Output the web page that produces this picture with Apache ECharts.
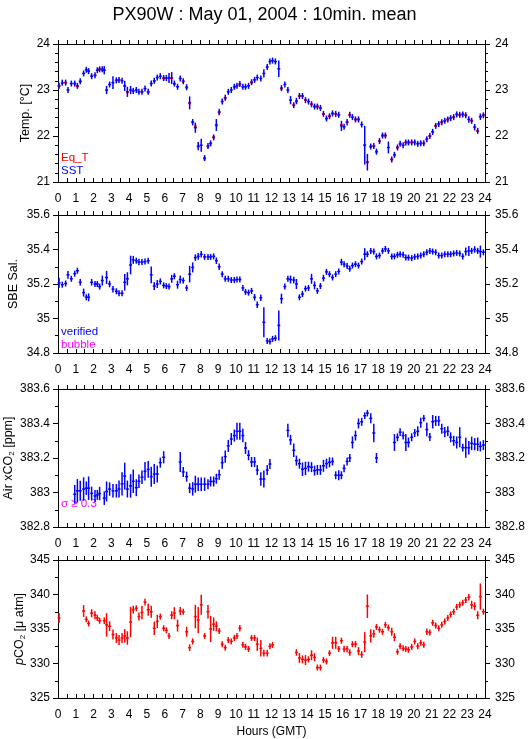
<!DOCTYPE html>
<html>
<head>
<meta charset="utf-8">
<title>PX90W : May 01, 2004 : 10min. mean</title>
<script src="https://cdn.jsdelivr.net/npm/echarts@6.0.0/dist/echarts.min.js"></script>
<style>
  html, body { margin: 0; padding: 0; background: #fff; }
  #chart { width: 529px; height: 739px; }
</style>
</head>
<body>
<div id="chart"></div>
<script>
// 10 minute bins (hours, GMT)
const hours = [
  0.06, 0.24, 0.43, 0.56, 0.75, 0.94, 1.09, 1.25, 1.44, 1.59,
  1.72, 1.89, 2.08, 2.21, 2.34, 2.49, 2.60, 2.73, 2.90, 3.09,
  3.28, 3.43, 3.60, 3.75, 3.90, 4.08, 4.23, 4.40, 4.55, 4.72,
  4.89, 5.07, 5.24, 5.41, 5.58, 5.75, 5.94, 6.09, 6.24, 6.39,
  6.54, 6.72, 6.87, 7.04, 7.23, 7.40, 7.57, 7.72, 7.88, 8.05,
  8.24, 8.43, 8.58, 8.75, 8.90, 9.06, 9.23, 9.40, 9.57, 9.74,
  9.91, 10.06, 10.22, 10.39, 10.54, 10.71, 10.88, 11.05, 11.20, 11.40,
  11.57, 11.76, 11.91, 12.06, 12.22, 12.41, 12.56, 12.75, 12.92, 13.07,
  13.25, 13.40, 13.57, 13.74, 13.91, 14.08, 14.25, 14.42, 14.58, 14.75,
  14.92, 15.09, 15.26, 15.43, 15.61, 15.78, 15.93, 16.08, 16.25, 16.40,
  16.55, 16.72, 16.89, 17.07, 17.24, 17.39, 17.58, 17.75, 17.90, 18.07,
  18.24, 18.40, 18.57, 18.76, 18.91, 19.08, 19.23, 19.40, 19.55, 19.70,
  19.88, 20.05, 20.22, 20.39, 20.56, 20.73, 20.90, 21.06, 21.23, 21.40,
  21.57, 21.74, 21.91, 22.07, 22.24, 22.41, 22.58, 22.75, 22.92, 23.09,
  23.25, 23.42, 23.59, 23.74, 23.91
];

// panel 1 : temperature [°C]
const sst = [
  23.09, 23.16, 23.16, 23.00, 23.14, 23.14, 23.09, 23.19, 23.36, 23.44,
  23.41, 23.30, 23.32, 23.43, 23.45, 23.45, 23.43, 23.00, 23.12, 23.16,
  23.21, 23.22, 23.20, 23.09, 22.96, 23.00, 22.98, 23.00, 22.96, 22.96,
  23.03, 22.96, 23.14, 23.20, 23.27, 23.30, 23.26, 23.26, 23.26, 23.26,
  23.14, 23.07, 23.25, 23.19, 23.06, 22.72, 22.30, 22.18, 21.78, 21.80,
  21.52, 21.78, 21.84, 21.97, 22.24, 22.52, 22.75, 22.83, 22.96, 23.00,
  23.07, 23.09, 23.13, 23.07, 23.07, 23.09, 23.17, 23.22, 23.27, 23.25,
  23.36, 23.50, 23.62, 23.64, 23.62, 23.46, 23.04, 23.12, 23.00, 22.78,
  22.67, 22.76, 22.87, 22.87, 22.78, 22.75, 22.69, 22.64, 22.64, 22.61,
  22.48, 22.38, 22.43, 22.49, 22.48, 22.46, 22.22, 22.20, 22.30, 22.46,
  22.41, 22.36, 22.36, 22.25, 21.80, 21.43, 21.77, 21.78, 21.66, 21.89,
  22.01, 22.01, 21.75, 21.49, 21.59, 21.75, 21.83, 21.80, 21.86, 21.86,
  21.86, 21.86, 21.83, 21.84, 21.84, 21.93, 22.00, 22.09, 22.22, 22.26,
  22.30, 22.33, 22.36, 22.39, 22.41, 22.47, 22.46, 22.47, 22.45, 22.36,
  22.33, 22.19, 22.11, 22.42, 22.45
];
const sstSd = [
  0, 0, 0, 0.05, 0, 0, 0, 0, 0, 0,
  0, 0, 0, 0, 0, 0, 0.09, 0.09, 0, 0.14,
  0.06, 0, 0, 0.11, 0.11, 0.09, 0, 0, 0, 0,
  0, 0, 0, 0, 0.05, 0, 0, 0, 0.11, 0.13,
  0, 0.05, 0, 0, 0, 0.14, 0.07, 0.11, 0.09, 0.14,
  0, 0, 0, 0, 0.13, 0.07, 0, 0, 0, 0,
  0, 0, 0, 0, 0, 0, 0, 0, 0, 0,
  0.09, 0, 0, 0, 0, 0.18, 0, 0, 0, 0.09,
  0, 0.07, 0, 0, 0, 0, 0, 0, 0, 0,
  0.06, 0, 0, 0, 0, 0, 0.11, 0, 0.07, 0,
  0, 0, 0, 0, 0.42, 0.18, 0, 0, 0, 0,
  0, 0, 0.13, 0, 0, 0, 0, 0, 0, 0,
  0, 0, 0, 0, 0, 0, 0, 0, 0, 0,
  0, 0, 0, 0, 0, 0, 0, 0, 0, 0.07,
  0, 0.07, 0, 0.07, 0
];
const eqT = [
  23.09, 23.15, 23.16, null, null, 23.14, 23.08, 23.18, null, null,
  23.41, null, 23.32, null, 23.45, 23.44, null, null, null, null,
  23.21, 23.22, null, 23.09, 22.95, null, null, null, null, 22.96,
  null, 22.95, null, 23.19, null, null, 23.25, null, null, 23.26,
  23.13, null, null, 23.18, 23.05, 22.71, 22.30, 22.21, 21.77, null,
  21.51, 21.77, 21.84, 21.97, 22.23, 22.51, null, 22.82, null, null,
  23.06, null, 23.12, null, null, null, 23.16, null, null, null,
  null, null, null, null, null, null, 23.03, null, null, null,
  22.67, 22.75, 22.87, 22.87, 22.78, null, 22.69, 22.64, 22.64, 22.61,
  22.48, null, 22.43, 22.49, 22.48, 22.46, 22.24, null, 22.30, 22.46,
  null, 22.36, 22.36, null, 21.80, 21.43, 21.77, 21.78, 21.66, 21.89,
  22.01, 22.01, null, 21.49, 21.59, 21.75, 21.83, null, 21.86, 21.86,
  21.86, 21.86, null, 21.84, 21.84, 21.93, 22.00, 22.09, 22.22, 22.26,
  22.30, 22.33, 22.36, 22.39, 22.41, 22.47, 22.46, 22.47, 22.45, null,
  22.33, 22.19, 22.11, 22.42, 22.45
];

// panel 2 : SBE salinity
const sal = [
  35.207, 35.196, 35.203, 35.253, 35.23, 35.26, 35.277, 35.21, 35.15, 35.123,
  35.123, 35.21, 35.20, 35.20, 35.185, 35.22, null, 35.238, 35.20, 35.17,
  35.158, 35.146, 35.146, 35.21, 35.23, 35.31, 35.34, 35.335, 35.327, 35.327,
  35.33, 35.335, 35.253, 35.188, 35.20, 35.215, 35.192, 35.188, 35.185, 35.23,
  35.245, 35.196, 35.226, 35.22, 35.177, 35.257, 35.296, 35.353, 35.36, 35.372,
  35.357, 35.357, 35.357, 35.36, 35.335, 35.30, 35.257, 35.23, 35.23, 35.223,
  35.223, 35.226, 35.226, 35.177, 35.154, 35.15, 35.16, 35.123, 35.08, 35.12,
  34.978, 34.87, 34.866, 34.882, 34.886, 34.96, 35.115, 35.185, 35.23, 35.226,
  35.223, 35.20, 35.123, 35.142, 35.173, 35.177, 35.23, 35.192, 35.16, 35.188,
  35.234, 35.27, 35.257, 35.238, 35.257, 35.273, 35.327, 35.315, 35.304, 35.288,
  35.307, 35.315, 35.307, 35.33, 35.373, 35.373, 35.392, 35.388, 35.36, 35.365,
  35.392, 35.403, 35.392, 35.36, 35.36, 35.369, 35.373, 35.369, 35.353, 35.353,
  35.35, 35.357, 35.36, 35.365, 35.373, 35.384, 35.392, 35.388, 35.384, 35.365,
  35.365, 35.373, 35.373, 35.373, 35.377, 35.38, 35.377, 35.36, 35.388, 35.392,
  35.392, 35.40, 35.392, 35.388, 35.384
];
const salSd = [
  0.029, 0, 0, 0.023, 0, 0, 0, 0.019, 0.023, 0,
  0.023, 0.019, 0, 0, 0, 0.029, 0, 0.038, 0.019, 0.019,
  0, 0, 0, 0.048, 0.038, 0.054, 0.023, 0, 0.019, 0,
  0, 0, 0.048, 0.023, 0.023, 0, 0, 0, 0, 0.023,
  0, 0.023, 0.023, 0, 0, 0.048, 0.029, 0.019, 0.019, 0.019,
  0, 0, 0, 0, 0.019, 0.019, 0, 0, 0, 0,
  0, 0, 0, 0, 0, 0, 0, 0.019, 0.019, 0.019,
  0.087, 0, 0, 0, 0, 0.087, 0.029, 0, 0, 0.023,
  0.019, 0.029, 0, 0, 0, 0, 0.029, 0.023, 0, 0,
  0.019, 0, 0, 0, 0, 0, 0.019, 0, 0, 0,
  0, 0, 0, 0, 0.035, 0, 0, 0, 0, 0,
  0, 0, 0, 0, 0, 0, 0, 0, 0, 0,
  0, 0, 0, 0, 0, 0, 0, 0, 0, 0,
  0, 0, 0, 0, 0, 0, 0, 0, 0.023, 0.029,
  0, 0.019, 0, 0.035, 0
];

// panel 3 : air xCO2 [ppm]
const airCo2 = [
  null, null, null, null, null, 382.99, 383.01, 383.01, 383.02, 383.025,
  383.025, 382.995, 382.98, 382.986, 382.994, null, 382.967, 383.006, 383.02, 383.01,
  383.01, 383.02, 383.05, 383.095, 383.02, 383.038, 383.065, 383.028, 383.065, 383.088,
  383.123, 383.134, 383.092, 383.107, 383.107, 383.173, 383.204, null, null, null,
  null, null, 383.177, 383.119, 383.092, 383.025, 383.021, 383.048, 383.048, 383.048,
  383.048, 383.048, 383.064, 383.064, 383.08, 383.103, 383.173, 383.208, 383.27, 383.31,
  383.33, 383.355, 383.355, 383.33, 383.258, 383.216, 383.177, 383.177, 383.13, 383.078,
  383.078, 383.13, 383.165, null, null, null, null, null, 383.36, 383.305,
  383.245, 383.185, 383.167, 383.135, 383.14, 383.15, 383.147, 383.127, 383.131, 383.131,
  383.155, 383.167, 383.175, 383.18, 383.10, 383.10, 383.10, 383.14, 383.18, 383.20,
  383.29, 383.33, 383.40, 383.41, 383.445, 383.46, 383.43, 383.345, 383.20, null,
  null, null, null, null, 383.29, 383.32, 383.35, 383.33, 383.29, 383.29,
  383.32, 383.345, 383.355, 383.405, 383.43, 383.365, 383.322, 383.41, 383.415, 383.415,
  383.37, 383.35, 383.355, 383.32, 383.30, 383.29, 383.32, 383.26, 383.26, 383.26,
  383.285, 383.28, 383.28, 383.267, 383.275
];
const airCo2Sd = [
  0, 0, 0, 0, 0, 0.054, 0.068, 0.058, 0.068, 0.039,
  0.068, 0.039, 0.035, 0.029, 0.039, 0, 0.039, 0.058, 0.039, 0.039,
  0.039, 0.049, 0.068, 0.078, 0.049, 0.068, 0.068, 0.049, 0.039, 0.039,
  0.054, 0.049, 0.058, 0.058, 0.049, 0.029, 0.035, 0, 0, 0,
  0, 0, 0.058, 0.029, 0.029, 0.029, 0.039, 0.049, 0.039, 0.039,
  0.039, 0.029, 0.029, 0.029, 0.029, 0.029, 0.035, 0.035, 0.035, 0.035,
  0.035, 0.049, 0.049, 0.039, 0.035, 0.029, 0.029, 0.029, 0.029, 0.039,
  0.049, 0.029, 0.029, 0, 0, 0, 0, 0, 0.039, 0.029,
  0.039, 0.029, 0.029, 0.039, 0.039, 0.029, 0.029, 0.029, 0.029, 0.029,
  0.035, 0.029, 0.029, 0.023, 0.023, 0.029, 0.023, 0.023, 0.023, 0.023,
  0.035, 0.029, 0.029, 0.023, 0.019, 0.019, 0.029, 0.054, 0.029, 0,
  0, 0, 0, 0, 0.049, 0.023, 0.023, 0.023, 0.049, 0.029,
  0.023, 0.023, 0.029, 0.029, 0.019, 0.039, 0.023, 0.039, 0.029, 0.029,
  0.029, 0.029, 0.029, 0.029, 0.029, 0.035, 0.058, 0.023, 0.058, 0.039,
  0.039, 0.035, 0.039, 0.029, 0.029
];

// panel 4 : pCO2 [μatm]
const pco2 = [
  336.6, null, null, null, null, null, null, null, 337.6, 336.4,
  335.8, 337.3, 337.0, 336.6, 336.2, null, 336.2, 335.6, 335.4, 334.2,
  333.7, 333.4, 333.7, 334.0, 333.7, 336.0, 337.8, 338.0, 336.8, 337.4,
  338.9, 337.8, 337.5, 335.1, 336.1, 336.8, 335.1, 334.8, 334.0, 337.0,
  337.3, 335.5, 337.6, 337.5, 334.6, 332.3, 333.2, 336.8, 336.3, 338.5,
  334.0, 337.5, 335.0, 335.7, 335.4, 334.7, 332.8, 332.3, 333.4, 333.2,
  333.7, 334.0, 335.1, 332.7, 332.4, 332.1, 333.7, 333.7, 332.8, 332.2,
  331.5, 331.5, 332.5, 332.7, null, null, null, null, null, null,
  null, 331.6, 330.8, 330.6, 330.5, 330.6, 331.2, 330.9, 329.4, 329.4,
  330.5, 330.3, 331.5, 333.0, 333.0, 332.1, 333.3, 332.1, 332.1, 331.6,
  332.8, 332.8, 331.8, 331.3, 333.1, 338.3, 334.0, 334.3, 335.3, 334.9,
  334.6, 335.6, 335.2, 334.6, 333.8, 331.7, 332.5, 332.2, 332.1, 332.0,
  332.4, 333.2, 332.5, 333.0, 332.7, 334.6, 334.5, 335.9, 335.5, 335.1,
  335.6, 336.1, 336.6, 337.1, 337.5, 338.2, 338.5, 338.8, 339.2, 339.6,
  338.5, 338.3, 337.0, 339.7, 337.5
];
const pco2Sd = [
  0.68, 0, 0, 0, 0, 0, 0, 0, 0.87, 0,
  0, 0.58, 0.58, 0, 0, 0, 0.48, 1.7, 0.72, 0.72,
  0.72, 0.72, 0.72, 0.97, 0.97, 2.2, 0.58, 0, 0.58, 0.97,
  0.48, 0.87, 0.87, 0.97, 0.97, 0, 0, 0, 0, 0.58,
  0.87, 0.87, 0.58, 0, 0.72, 0.48, 0, 1.7, 1.9, 1.45,
  0, 0.97, 1.9, 0.97, 0.72, 0, 0, 0, 0, 0,
  0, 0, 0.48, 0, 0, 0, 0, 0, 0.97, 1.2,
  0.48, 0.48, 0, 0, 0, 0, 0, 0, 0, 0,
  0, 0.48, 0.72, 0.58, 0.72, 0, 0.72, 0.58, 0, 0,
  0, 0, 0.39, 0.87, 0.87, 0, 0.39, 0.48, 0.48, 0.48,
  0, 0.48, 0.58, 0.48, 1.45, 1.7, 0.97, 0.58, 0.39, 0,
  0, 0, 0, 0.58, 0.58, 0, 0, 0, 0, 0,
  0, 0, 0, 0, 0, 0.48, 0, 0, 0, 0,
  0, 0, 0, 0, 0, 0.39, 0, 0, 0, 0.48,
  0.58, 0.58, 0.58, 1.9, 0
];

const FONT = '"Liberation Sans", Arial, Helvetica, sans-serif';
const BLUE = '#0000ff';
const RED = '#ff0000';
const MAGENTA = '#ff00ff';
const HALF_BIN = 1 / 12; // half of a 10 minute bin, in hours

const chart = echarts.init(document.getElementById('chart'));

// [hour, value, sd] triples, gaps skipped
function toData(values, sds) {
  const out = [];
  hours.forEach((h, i) => {
    if (values[i] != null) out.push([h, values[i], sds ? sds[i] : 0]);
  });
  return out;
}

// part: 'h' = bin bar only, 'v' = sd bar only, 'hv' = both
function crossRenderer(color, width, part, half) {
  return (params, api) => {
    const t = api.value(0), v = api.value(1), e = api.value(2);
    const c = api.coord([t, v]);
    const children = [];
    if (part.indexOf('h') >= 0) {
      const a = api.coord([t - half, v]);
      const b = api.coord([t + half, v]);
      children.push({ type: 'line', shape: { x1: a[0], y1: c[1], x2: b[0], y2: c[1] },
        style: { stroke: color, lineWidth: width } });
    }
    if (part.indexOf('v') >= 0) {
      const top = api.coord([t, v + e]);
      const d = Math.max(c[1] - top[1], 3);
      children.push({ type: 'line', shape: { x1: c[0], y1: c[1] - d, x2: c[0], y2: c[1] + d },
        style: { stroke: color, lineWidth: width } });
    }
    return { type: 'group', children };
  };
}

const panels = [
  { top: 44, min: 21, max: 24, interval: 1, minor: 5, name: 'Temp. [°C]', nameX: 26 },
  { top: 215, min: 34.8, max: 35.6, interval: 0.2, minor: 2, name: 'SBE Sal.', nameX: 14 },
  { top: 389, min: 382.8, max: 383.6, interval: 0.2, minor: 2, name: '{n|Air xCO}{s|2}{n| [ppm]}', nameX: 9 },
  { top: 560, min: 325, max: 345, interval: 5, minor: 2, name: '{i|p}{n|CO}{s|2}{n| [μ atm]}', nameX: 20 }
];
const PANEL_H = 138;

const axisLine = { show: true, onZero: false, lineStyle: { color: '#000', width: 1 } };
const nameRich = {
  n: { fontFamily: FONT, fontSize: 12.5, fill: '#000' },
  i: { fontFamily: FONT, fontSize: 12.5, fontStyle: 'italic', fill: '#000' },
  s: { fontFamily: FONT, fontSize: 8, fill: '#000', verticalAlign: 'bottom' }
};

const grid = [], xAxis = [], yAxis = [];
panels.forEach((p, k) => {
  grid.push({ left: 58, width: 427, top: p.top, height: PANEL_H, containLabel: false, outerBoundsMode: 'none' });
  xAxis.push({
    gridIndex: k, type: 'value', min: 0, max: 24, interval: 1, position: 'bottom',
    axisLine,
    axisTick: { inside: true, length: 4, lineStyle: { color: '#000' } },
    minorTick: { show: true, splitNumber: 2, length: 4, lineStyle: { color: '#000' } },
    axisLabel: { color: '#000', fontSize: 12, fontFamily: FONT, margin: 11 },
    splitLine: { show: false },
    name: k === 3 ? 'Hours (GMT)' : '',
    nameLocation: 'middle', nameGap: 28,
    nameTextStyle: { color: '#000', fontSize: 12, fontFamily: FONT }
  });
  xAxis.push({
    gridIndex: k, type: 'value', min: 0, max: 24, interval: 1, position: 'top',
    axisLine,
    axisTick: { inside: false, length: 4, lineStyle: { color: '#000' } },
    minorTick: { show: true, splitNumber: 2, length: 4, lineStyle: { color: '#000' } },
    axisLabel: { show: false },
    splitLine: { show: false }
  });
  const yBase = {
    gridIndex: k, type: 'value', min: p.min, max: p.max, interval: p.interval,
    axisLine,
    axisTick: { inside: false, length: 5, lineStyle: { color: '#000' } },
    minorTick: { show: true, splitNumber: p.minor, length: 3, lineStyle: { color: '#000' } },
    splitLine: { show: false }
  };
  yAxis.push(Object.assign({}, yBase, {
    position: 'left',
    axisLabel: { color: '#000', fontSize: 12, fontFamily: FONT, margin: 8 }
  }));
  yAxis.push(Object.assign({}, yBase, {
    position: 'right',
    axisLabel: { color: '#000', fontSize: 12, fontFamily: FONT, margin: 10 }
  }));
});

function custom(k, data, renderItem) {
  return {
    type: 'custom', xAxisIndex: 2 * k, yAxisIndex: 2 * k,
    encode: { x: 0, y: 1 }, data, renderItem, silent: true, animation: false
  };
}

const series = [
  custom(0, toData(sst, sstSd), crossRenderer(BLUE, 1.5, 'h', HALF_BIN)),
  custom(0, toData(eqT), crossRenderer(RED, 2, 'h', 0.07)),
  custom(0, toData(sst, sstSd), crossRenderer(BLUE, 1.5, 'v', HALF_BIN)),
  custom(1, toData(sal, salSd), crossRenderer(BLUE, 1.5, 'hv', HALF_BIN)),
  custom(2, toData(airCo2, airCo2Sd), crossRenderer(BLUE, 1.5, 'hv', HALF_BIN)),
  custom(3, toData(pco2, pco2Sd), crossRenderer(RED, 1.5, 'hv', HALF_BIN))
];

// rotated y axis titles, centred on each panel
const graphic = panels.map(p => ({
  type: 'text', x: p.nameX, y: p.top + PANEL_H / 2, rotation: Math.PI / 2,
  style: {
    text: p.name, fill: '#000', font: '12.5px ' + FONT,
    align: 'center', verticalAlign: 'middle', rich: nameRich
  }
}));

const legendFont = '11.5px ' + FONT;
graphic.push(
  { type: 'text', left: 61, top: 152, style: { text: 'Eq_T', fill: RED, font: legendFont } },
  { type: 'text', left: 61, top: 165, style: { text: 'SST', fill: BLUE, font: legendFont } },
  { type: 'text', left: 61, top: 326, style: { text: 'verified', fill: BLUE, font: legendFont } },
  { type: 'text', left: 61, top: 339, style: { text: 'bubble', fill: MAGENTA, font: legendFont } },
  { type: 'text', left: 61, top: 498, style: { text: 'σ ≥ 0.3', fill: MAGENTA, font: legendFont } }
);

chart.setOption({
  backgroundColor: '#fff',
  animation: false,
  title: {
    text: 'PX90W : May 01, 2004 : 10min. mean',
    left: 'center', top: 1,
    textStyle: { color: '#000', fontSize: 18, fontWeight: 'normal', fontFamily: FONT }
  },
  grid, xAxis, yAxis, series, graphic
});
</script>
</body>
</html>
